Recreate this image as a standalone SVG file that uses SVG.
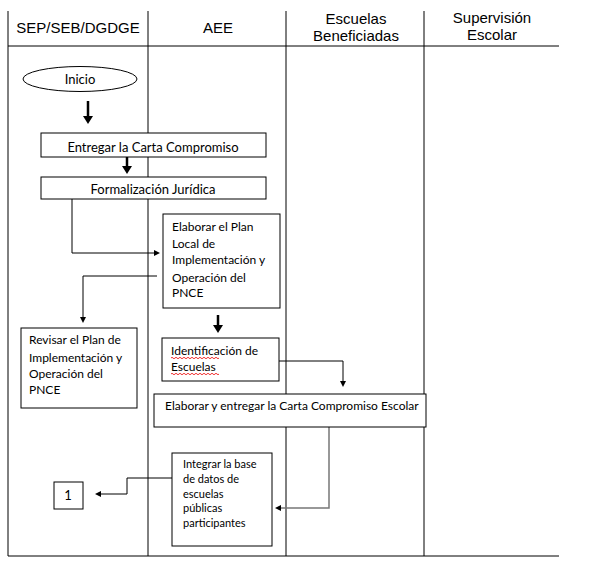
<svg xmlns="http://www.w3.org/2000/svg" width="590" height="566" viewBox="0 0 590 566">
<style>
.grid{stroke:#000;stroke-width:1;fill:none}
.hdr{font-family:"Liberation Sans",Arial,sans-serif;font-size:15px;fill:#000;text-anchor:middle}
.box{fill:#fff;stroke:#000;stroke-width:1}
.t{font-family:Lato,"Open Sans",sans-serif;font-size:12px;fill:#000}
.tc{text-anchor:middle}
.c{fill:none;stroke:#000;stroke-width:1}
.thick{fill:none;stroke:#000;stroke-width:2.5}
.sq{fill:none;stroke:#e00;stroke-width:0.8}
</style>
<defs>
<marker id="ah" markerWidth="6" markerHeight="6" refX="0" refY="3" orient="auto" markerUnits="userSpaceOnUse"><path d="M0,0 L6,3 L0,6 Z" fill="#000"/></marker>
<marker id="ahg" markerWidth="6" markerHeight="6" refX="0" refY="3" orient="auto" markerUnits="userSpaceOnUse"><path d="M0,0 L6,3 L0,6 Z" fill="#000"/></marker>
<marker id="ahb" markerWidth="8" markerHeight="10" refX="0" refY="5" orient="auto" markerUnits="userSpaceOnUse"><path d="M0,0 L8,5 L0,10 Z" fill="#000"/></marker>
<clipPath id="clipE"><rect x="41" y="133" width="225" height="21"/></clipPath>
</defs>
<g id="table">
<line class="grid" x1="8" y1="11" x2="8" y2="556"/>
<line class="grid" x1="148" y1="11" x2="148" y2="556"/>
<line class="grid" x1="286" y1="11" x2="286" y2="556"/>
<line class="grid" x1="424" y1="11" x2="424" y2="556"/>
<line class="grid" x1="8" y1="46" x2="559" y2="46"/>
<line class="grid" x1="8" y1="556" x2="559" y2="556"/>
<text class="hdr" x="78" y="33">SEP/SEB/DGDGE</text>
<text class="hdr" x="218" y="33">AEE</text>
<text class="hdr" x="356" y="24">Escuelas</text>
<text class="hdr" x="356" y="41">Beneficiadas</text>
<text class="hdr" x="492" y="23">Supervisión</text>
<text class="hdr" x="492" y="40">Escolar</text>
</g>
<g id="connectors">
<line class="thick" x1="88" y1="101" x2="88" y2="116" marker-end="url(#ahb)"/>
<line class="thick" x1="127" y1="157" x2="127" y2="166" marker-end="url(#ahb)"/>
<polyline class="c" points="72,199 72,253 154,253" marker-end="url(#ah)"/>
<polyline class="c" points="157,276 83,276 83,317" marker-end="url(#ah)"/>
<line class="thick" x1="218" y1="315" x2="218" y2="325" marker-end="url(#ahb)"/>
<polyline class="c" points="279,361 343,361 343,381" marker-end="url(#ah)"/>
<polyline class="c" points="329,427 329,508 281,508" style="stroke:#777;stroke-width:1.5" marker-end="url(#ahg)"/>
<polyline class="c" points="177,478 127,478 127,494 101,494" marker-end="url(#ah)"/>
</g>
<g id="inicio">
<ellipse class="box" cx="80" cy="79" rx="57" ry="12.5"/>
<text class="t tc" x="80" y="84" style="font-size:13px">Inicio</text>
</g>
<g id="entregar">
<rect class="box" x="41" y="133" width="225" height="24"/>
<text class="t tc" x="153" y="152" style="font-size:13px" clip-path="url(#clipE)">Entregar la Carta Compromiso</text>
</g>
<g id="formalizacion">
<rect class="box" x="41" y="177" width="225" height="22"/>
<text class="t tc" x="153" y="194" style="font-size:13px">Formalización Jurídica</text>
</g>
<g id="elaborar-plan">
<rect class="box" x="163" y="214" width="117" height="94"/>
<text class="t" x="172" y="231">Elaborar el Plan</text>
<text class="t" x="172" y="248">Local de</text>
<text class="t" x="172" y="264">Implementación y</text>
<text class="t" x="172" y="282">Operación del</text>
<text class="t" x="172" y="297">PNCE</text>
</g>
<g id="revisar">
<rect class="box" x="21" y="328" width="116" height="80"/>
<text class="t" x="29" y="344">Revisar el Plan de</text>
<text class="t" x="29" y="362">Implementación y</text>
<text class="t" x="29" y="378">Operación del</text>
<text class="t" x="29" y="394">PNCE</text>
</g>
<g id="identificacion">
<rect class="box" x="162" y="338" width="117" height="43"/>
<text class="t" x="171" y="355">Identificación de</text>
<text class="t" x="171" y="371">Escuelas</text>
<path class="sq" d="M171,358 q1,-1.5 2,0 t2,0 t2,0 t2,0 t2,0 t2,0 t2,0 t2,0 t2,0 t2,0 t2,0 t2,0 t2,0 t2,0 t2,0 t2,0 t2,0 t2,0 t2,0 t2,0 t2,0 t2,0 t2,0 t2,0"/>
<path class="sq" d="M171,374 q1,-1.5 2,0 t2,0 t2,0 t2,0 t2,0 t2,0 t2,0 t2,0 t2,0 t2,0 t2,0 t2,0 t2,0 t2,0 t2,0 t2,0 t2,0 t2,0 t2,0 t2,0 t2,0 t2,0 t2,0 t2,0"/>
</g>
<g id="carta-escolar">
<rect class="box" x="154" y="394" width="272" height="33"/>
<text class="t" x="165" y="410">Elaborar y entregar la Carta Compromiso Escolar</text>
</g>
<g id="integrar">
<rect class="box" x="172" y="453" width="100" height="93"/>
<text class="t" x="183" y="468" style="font-size:11px">Integrar la base</text>
<text class="t" x="183" y="483" style="font-size:11px">de datos de</text>
<text class="t" x="183" y="498" style="font-size:11px">escuelas</text>
<text class="t" x="183" y="512" style="font-size:11px">públicas</text>
<text class="t" x="183" y="527" style="font-size:11px">participantes</text>
</g>
<g id="connector-1">
<rect class="box" x="54" y="482" width="29" height="27"/>
<text class="t tc" x="68" y="500" style="font-size:13px">1</text>
</g>
</svg>
